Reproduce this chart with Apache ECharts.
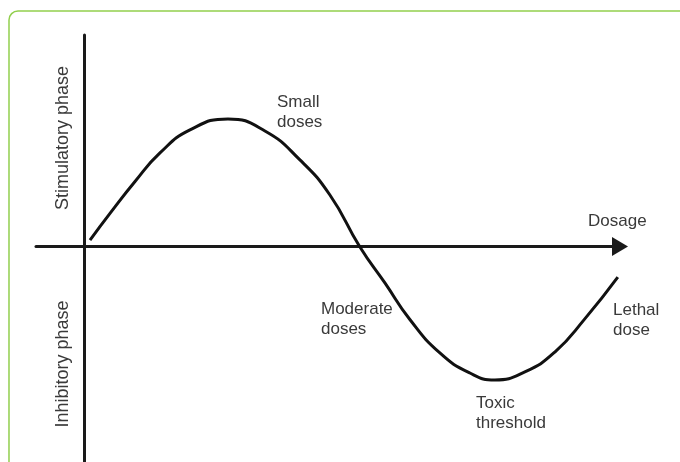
<!DOCTYPE html>
<html>
<head>
<meta charset="utf-8">
<script src="https://cdn.jsdelivr.net/npm/echarts@6/dist/echarts.min.js"></script>
<style>
html,body{margin:0;padding:0;background:#fff;}
#main{width:680px;height:462px;}
</style>
</head>
<body>
<div id="main"></div>
<script>
// dose-response curve
var doseX=[0.108,0.481,0.948,1.414,1.974,2.683,3.373,4.026,4.586,5.146,5.612,6.078,6.638,7.198,7.664,8.224,8.784,9.343,9.959];
var responseY=[0.030,0.156,0.307,0.442,0.551,0.603,0.546,0.409,0.243,-0.003,-0.173,-0.346,-0.504,-0.599,-0.632,-0.594,-0.500,-0.343,-0.145];
var phaseLabels=['Stimulatory phase','Inhibitory phase'];
var noteLabels=['Small\ndoses','Dosage','Moderate\ndoses','Lethal\ndose','Toxic\nthreshold'];

var myChart=echarts.init(document.getElementById('main'));

var curve=[];
for(var i=0;i<doseX.length;i++){
    curve.push([doseX[i],responseY[i]]);
}

var fontFamily='"Liberation Sans", Arial, sans-serif';
function note(x,y,t){
    return {type:'text',left:x,top:y,z:10,
        style:{text:t,fill:'#3a3a3a',font:'17px '+fontFamily,lineHeight:20}};
}
function phase(y,t){
    return {type:'text',x:63,y:y,rotation:Math.PI/2,z:10,
        style:{text:t,fill:'#3a3a3a',font:'18px '+fontFamily,align:'center',verticalAlign:'middle'}};
}

var option={
    backgroundColor:'#fff',
    animation:false,
    grid:{left:36,right:60,top:35,bottom:0,containLabel:false},
    xAxis:{
        type:'value',min:-0.9,max:10,
        axisLine:{show:true,onZero:true,symbol:['none','triangle'],symbolSize:[19,16],
            lineStyle:{color:'#1a1a1a',width:3}},
        axisTick:{show:false},axisLabel:{show:false},splitLine:{show:false}
    },
    yAxis:{
        type:'value',min:-1.02,max:1,
        axisLine:{show:true,onZero:true,lineStyle:{color:'#1a1a1a',width:3}},
        axisTick:{show:false},axisLabel:{show:false},splitLine:{show:false}
    },
    series:[{
        type:'line',
        data:curve,
        smooth:true,
        showSymbol:false,
        lineStyle:{color:'#111',width:3}
    }],
    graphic:[
        // green frame, only top and left edges fall inside the picture
        {type:'rect',shape:{x:9,y:11,width:720,height:520,r:9},
            style:{fill:'none',stroke:'#92cf4e',lineWidth:1.5},z:0},
        phase(138,phaseLabels[0]),
        phase(364,phaseLabels[1]),
        note(277,92,noteLabels[0]),
        note(588,211,noteLabels[1]),
        note(321,299,noteLabels[2]),
        note(613,300,noteLabels[3]),
        note(476,393,noteLabels[4])
    ]
};
myChart.setOption(option);
</script>
</body>
</html>
